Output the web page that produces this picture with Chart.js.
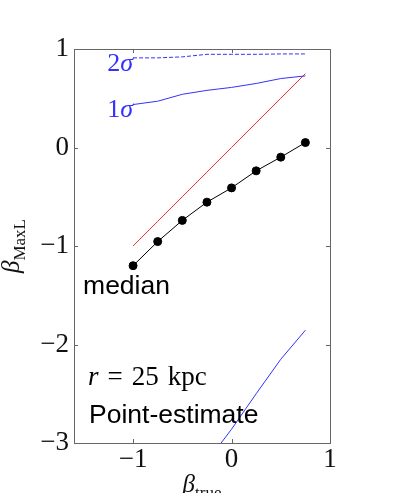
<!DOCTYPE html>
<html>
<head>
<meta charset="utf-8">
<script src="https://cdn.jsdelivr.net/npm/chart.js@4"></script>
<style>
  html, body { margin: 0; padding: 0; background: #fff; }
  #wrap { width: 395px; height: 493px; }
</style>
</head>
<body>
<div id="wrap"><canvas id="c" width="395" height="493"></canvas></div>
<script>
/* beta_MaxL vs beta_true, point-estimate, r = 25 kpc */
const betaTrue   = [-1, -0.75, -0.5, -0.25, 0, 0.25, 0.5, 0.75];
const medianVals = [-1.20, -0.955, -0.74, -0.555, -0.41, -0.237, -0.098, 0.05];
const truthVals  = [-1, -0.75, -0.5, -0.25, 0, 0.25, 0.5, 0.75];
const upper1Vals = [0.436, 0.47, 0.54, 0.58, 0.61, 0.65, 0.70, 0.727];
const upper2Vals = [0.91, 0.91, 0.92, 0.946, 0.946, 0.946, 0.95, 0.95];
const lowerX     = [-0.25, 0, 0.25, 0.5, 0.75];
const lower1Vals = [-3.19, -2.86, -2.50, -2.15, -1.855];
const xTicks = [-1, 0, 1];
const yTicks = [1, 0, -1, -2, -3];

const BLUE = 'rgb(50,50,255)';
const SERIF = '"Liberation Serif", "DejaVu Serif", serif';
const SANS = '"Liberation Sans", Arial, sans-serif';

const pts = (xs, ys) => xs.map((x, i) => ({ x: x, y: ys[i] }));
const fmt = v => (v < 0 ? '\u2212' + Math.abs(v) : String(v));

const notes = [
  { text: '2', sig: true, x: -1.0, y: 0.777, color: BLUE },
  { text: '1', sig: true, x: -1.0, y: 0.31, color: BLUE },
  { text: 'median', x: -1.508, y: -1.487, font: '26.5px ' + SANS },
  { text: 'r', kpc: true, x: -1.457, y: -2.41 },
  { text: 'Point-estimate', x: -1.447, y: -2.797, font: '26.5px ' + SANS }
];

const decor = {
  id: 'decor',
  afterDraw(chart) {
    const ctx = chart.ctx, a = chart.chartArea;
    const xs = chart.scales.x, ys = chart.scales.y;
    ctx.save();
    // frame
    ctx.strokeStyle = '#666';
    ctx.lineWidth = 1;
    ctx.strokeRect(Math.round(a.left) + 0.5, Math.round(a.top) + 0.5,
                   Math.round(a.right - a.left), Math.round(a.bottom - a.top));
    // inward ticks on all sides
    ctx.beginPath();
    xTicks.forEach(v => {
      const px = Math.round(xs.getPixelForValue(v)) + 0.5;
      ctx.moveTo(px, a.bottom); ctx.lineTo(px, a.bottom - 4);
      ctx.moveTo(px, a.top); ctx.lineTo(px, a.top + 4);
    });
    yTicks.forEach(v => {
      const py = Math.round(ys.getPixelForValue(v)) + 0.5;
      ctx.moveTo(a.left, py); ctx.lineTo(a.left + 4, py);
      ctx.moveTo(a.right, py); ctx.lineTo(a.right - 4, py);
    });
    ctx.stroke();

    // tick labels
    ctx.fillStyle = '#111';
    ctx.font = '27px ' + SERIF;
    ctx.textAlign = 'right';
    ctx.textBaseline = 'middle';
    yTicks.forEach(v => ctx.fillText(fmt(v), a.left - 5, ys.getPixelForValue(v)));
    ctx.textAlign = 'center';
    ctx.textBaseline = 'alphabetic';
    xTicks.forEach(v => ctx.fillText(fmt(v), xs.getPixelForValue(v), a.bottom + 24));

    // axis titles
    const beta = (x, y, sub) => {
      ctx.textAlign = 'left';
      ctx.font = 'italic 25px ' + SERIF;
      const w = ctx.measureText('\u03b2').width;
      ctx.font = '17px ' + SERIF;
      const ws = ctx.measureText(sub).width;
      const x0 = x - (w + ws) / 2;
      ctx.font = 'italic 25px ' + SERIF;
      ctx.fillText('\u03b2', x0, y);
      ctx.font = '17px ' + SERIF;
      ctx.fillText(sub, x0 + w, y + 6);
    };
    beta((a.left + a.right) / 2, a.bottom + 49, 'true');
    ctx.save();
    ctx.translate(19, (a.top + a.bottom) / 2);
    ctx.rotate(-Math.PI / 2);
    beta(0, 0, 'MaxL');
    ctx.restore();

    // annotations
    ctx.textBaseline = 'alphabetic';
    notes.forEach(n => {
      const px = xs.getPixelForValue(n.x), py = ys.getPixelForValue(n.y);
      ctx.fillStyle = n.color || '#000';
      ctx.textAlign = 'left';
      if (n.sig) {
        ctx.font = '26px ' + SERIF;
        const w1 = ctx.measureText(n.text).width;
        ctx.font = 'italic 26px ' + SERIF;
        const w2 = ctx.measureText('\u03c3').width;
        const x0 = px - w1 - w2;
        ctx.font = '26px ' + SERIF;
        ctx.fillText(n.text, x0, py);
        ctx.font = 'italic 26px ' + SERIF;
        ctx.fillText('\u03c3', x0 + w1, py);
      } else if (n.kpc) {
        ctx.font = 'italic 27px ' + SERIF;
        ctx.fillText('r', px, py);
        const w = ctx.measureText('r').width;
        ctx.font = '27px ' + SERIF;
        ctx.fillText('=', px + w + 9, py);
        const x2 = px + w + 9 + ctx.measureText('=').width + 9;
        ctx.fillText('25', x2, py);
        ctx.fillText('kpc', x2 + ctx.measureText('25').width + 9, py);
      } else {
        ctx.font = n.font;
        ctx.fillText(n.text, px, py);
      }
    });
    ctx.restore();
  }
};

new Chart(document.getElementById('c'), {
  type: 'scatter',
  data: {
    datasets: [
      { data: pts(betaTrue, upper2Vals), showLine: true, borderColor: BLUE, borderWidth: 1,
        borderDash: [4, 2], pointRadius: 0 },
      { data: pts(betaTrue, upper1Vals), showLine: true, borderColor: BLUE, borderWidth: 1, pointRadius: 0 },
      { data: pts(lowerX, lower1Vals), showLine: true, borderColor: BLUE, borderWidth: 1, pointRadius: 0 },
      { data: pts(betaTrue, truthVals), showLine: true, borderColor: 'rgb(255,40,40)', borderWidth: 1, pointRadius: 0 },
      { data: pts(betaTrue, medianVals), showLine: true, borderColor: '#000', borderWidth: 1,
        pointRadius: 4, pointBackgroundColor: '#000', pointBorderColor: '#000' }
    ]
  },
  options: {
    responsive: false,
    animation: false,
    layout: { padding: { left: 74, right: 65, top: 49, bottom: 50 } },
    plugins: { legend: { display: false }, tooltip: { enabled: false } },
    scales: {
      x: { display: false, min: -1.6, max: 1 },
      y: { display: false, min: -3, max: 1 }
    }
  },
  plugins: [decor]
});
</script>
</body>
</html>
